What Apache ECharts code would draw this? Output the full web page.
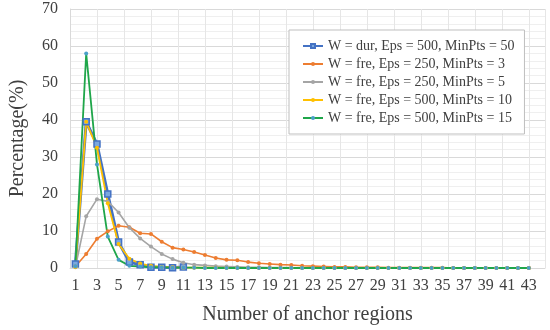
<!DOCTYPE html>
<html>
<head>
<meta charset="utf-8">
<script src="https://cdn.jsdelivr.net/npm/echarts@6/dist/echarts.min.js"></script>
<style>html,body{margin:0;padding:0;background:#fff;}#c{width:550px;height:330px;}</style>
</head>
<body>
<div id="c"></div>
<script>
var categories = ['1','2','3','4','5','6','7','8','9','10','11','12','13','14','15','16','17','18','19','20','21','22','23','24','25','26','27','28','29','30','31','32','33','34','35','36','37','38','39','40','41','42','43','44'];
var seriesNames = [
  'W = dur, Eps = 500, MinPts = 50',
  'W = fre, Eps = 250, MinPts = 3',
  'W = fre, Eps = 250, MinPts = 5',
  'W = fre, Eps = 500, MinPts = 10',
  'W = fre, Eps = 500, MinPts = 15'
];
var durEps500Min50 = [1.1, 39.5, 33.5, 20.0, 7.0, 1.6, 0.9, 0.2, 0.2, 0.1, 0.3];
var freEps250Min3 = [0.4, 3.8, 7.9, 9.9, 11.4, 11.0, 9.4, 9.2, 7.1, 5.5, 5.0, 4.3, 3.5, 2.7, 2.2, 2.1, 1.6, 1.3, 1.1, 0.9, 0.8, 0.6, 0.5, 0.4, 0.3, 0.3, 0.2, 0.2, 0.2, 0.1, 0.1, 0.1, 0.1, 0.1, 0.1, 0.0, 0.0, 0.0, 0.0, 0.0, 0.0, 0.0, 0.0];
var freEps250Min5 = [0.2, 14.0, 18.6, 18.0, 15.0, 10.9, 8.0, 5.8, 3.8, 2.4, 1.4, 0.9, 0.7, 0.5, 0.4, 0.3, 0.2, 0.2, 0.1, 0.1, 0.1, 0.0, 0.0, 0.0, 0.0, 0.0, 0.0, 0.0, 0.0, 0.0, 0.0, 0.0, 0.0, 0.0, 0.0, 0.0, 0.0, 0.0, 0.0, 0.0, 0.0, 0.0, 0.0];
var freEps500Min10 = [0.3, 39.5, 32.5, 17.5, 6.5, 2.5, 1.2, 0.6, 0.3, 0.2, 0.1, 0.1, 0.1, 0.1, 0.0, 0.0, 0.0, 0.0, 0.0, 0.0, 0.0, 0.0, 0.0, 0.0, 0.0, 0.0, 0.0, 0.0, 0.0, 0.0, 0.0, 0.0, 0.0, 0.0, 0.0, 0.0, 0.0, 0.0, 0.0, 0.0, 0.0, 0.0, 0.0];
var freEps500Min15 = [0.5, 58.0, 28.0, 8.5, 2.2, 0.6, 0.4, 0.2, 0.2, 0.1, 0.1, 0.1, 0.0, 0.0, 0.0, 0.0, 0.0, 0.0, 0.0, 0.0, 0.0, 0.0, 0.0, 0.0, 0.0, 0.0, 0.0, 0.0, 0.0, 0.0, 0.0, 0.0, 0.0, 0.0, 0.0, 0.0, 0.0, 0.0, 0.0, 0.0, 0.0, 0.0, 0.0];
var yTicks = [0, 10, 20, 30, 40, 50, 60, 70];

var FONT = '"Liberation Serif", "Times New Roman", serif';
var chart = echarts.init(document.getElementById('c'), null, {renderer: 'canvas'});

function lineSeries(name, data, color, width, symbol, size, markerColor, borderColor) {
  return {
    name: name, type: 'line', data: data, xAxisIndex: 0,
    symbol: symbol, symbolSize: size, showSymbol: true,
    lineStyle: {color: color, width: width},
    itemStyle: {color: markerColor, borderColor: borderColor || markerColor, borderWidth: symbol === 'rect' ? 1.5 : 0},
    emphasis: {disabled: true},
    animation: false
  };
}

chart.setOption({
  animation: false,
  backgroundColor: '#ffffff',
  grid: {left: 67, right: 5, top: 9, bottom: 60, containLabel: false},
  legend: {
    orient: 'vertical', left: 289, top: 30,
    padding: [9, 10, 9, 13], itemGap: 4,
    itemWidth: 20, itemHeight: 5,
    borderColor: '#bfbfbf', borderWidth: 1, backgroundColor: '#ffffff',
    textStyle: {fontFamily: FONT, fontSize: 14, color: '#404040'},
    data: seriesNames
  },
  xAxis: [{
    type: 'category', data: categories, boundaryGap: true,
    axisLine: {show: true, lineStyle: {color: '#d9d9d9'}},
    axisTick: {show: false},
    axisLabel: {interval: 1, fontFamily: FONT, fontSize: 16, color: '#404040', margin: 10},
    splitLine: {show: false},
    name: 'Number of anchor regions', nameLocation: 'middle', nameGap: 37,
    nameTextStyle: {fontFamily: FONT, fontSize: 20, color: '#404040'}
  }, {
    type: 'value', min: 0, max: 44, interval: 2.5, position: 'bottom',
    axisLine: {show: false}, axisTick: {show: false}, axisLabel: {show: false},
    splitLine: {show: true, lineStyle: {color: '#e6e6e6', width: 1}}
  }],
  yAxis: {
    type: 'value', min: 0, max: 70, interval: 10,
    axisLine: {show: true, lineStyle: {color: '#d9d9d9'}},
    axisTick: {show: false},
    axisLabel: {fontFamily: FONT, fontSize: 16, color: '#404040', margin: 12},
    splitLine: {show: true, lineStyle: {color: '#d9d9d9', width: 1}},
    minorTick: {show: false, splitNumber: 5},
    minorSplitLine: {show: true, lineStyle: {color: '#efefef', width: 1}},
    name: 'Percentage(%)', nameLocation: 'middle', nameGap: 42,
    nameTextStyle: {fontFamily: FONT, fontSize: 20, color: '#404040'}
  },
  series: [
    lineSeries(seriesNames[0], durEps500Min50, '#4472C4', 3, 'rect', 6, '#7AA8DE', '#4472C4'),
    lineSeries(seriesNames[1], freEps250Min3, '#ED7D31', 1.6, 'circle', 4, '#ED7D31'),
    lineSeries(seriesNames[2], freEps250Min5, '#A5A5A5', 1.6, 'circle', 4, '#A5A5A5'),
    lineSeries(seriesNames[3], freEps500Min10, '#FFC000', 1.8, 'circle', 4, '#FFC000'),
    lineSeries(seriesNames[4], freEps500Min15, '#1FA64A', 1.8, 'circle', 4, '#4A9FC8')
  ]
});
</script>
</body>
</html>
